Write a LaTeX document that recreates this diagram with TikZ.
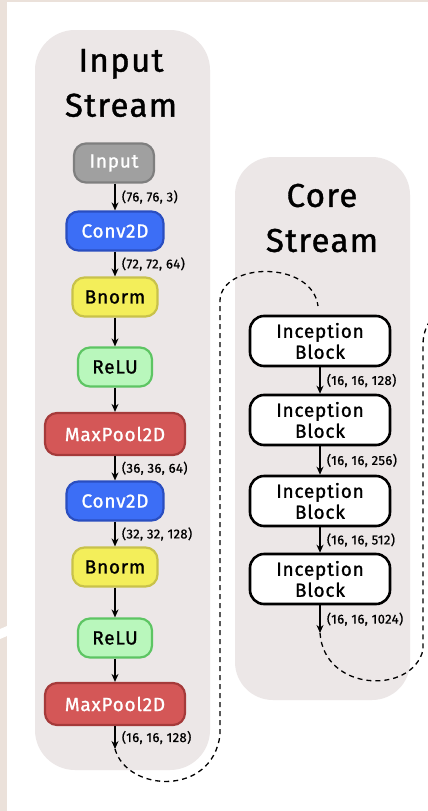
\documentclass[tikz,border=0pt]{standalone}
\usepackage{fontspec}
\setmainfont{Fira Sans}
\newfontfamily\medfont[FakeBold=1.1,LetterSpace=4]{Fira Sans}
\newfontfamily\lblfont[FakeBold=0.8,LetterSpace=3]{Fira Sans}
\usetikzlibrary{arrows.meta}
\definecolor{beige}{HTML}{EBE1DA}
\definecolor{panel}{HTML}{ECE7E7}
\definecolor{grayF}{HTML}{A0A0A0}\definecolor{grayD}{HTML}{7F7F7F}
\definecolor{blueF}{HTML}{3C6EF6}\definecolor{blueD}{HTML}{2A4EC0}
\definecolor{yelF}{HTML}{F3EE5A}\definecolor{yelD}{HTML}{C8C24A}
\definecolor{grnF}{HTML}{B9F7BC}\definecolor{grnD}{HTML}{5DC563}
\definecolor{redF}{HTML}{D45757}\definecolor{redD}{HTML}{A53A3A}
\tikzset{
  layer/.style={rounded corners=12pt, line width=2.2pt, minimum height=39pt, inner sep=0pt,
    font=\medfont\fontsize{19}{22}\selectfont},
  inputbox/.style={layer, fill=grayF, draw=grayD, text=white, minimum width=80pt},
  convbox/.style={layer, fill=blueF, draw=blueD, text=white, minimum width=97pt},
  bnbox/.style={layer, fill=yelF, draw=yelD, text=black, minimum width=85pt},
  relubox/.style={layer, fill=grnF, draw=grnD, text=black, minimum width=74pt},
  poolbox/.style={layer, fill=redF, draw=redD, text=white, minimum width=140pt, minimum height=42pt},
  incbox/.style={rounded corners=14pt, line width=2.6pt, draw=black, fill=white, minimum width=140pt,
    minimum height=50pt, inner sep=0pt, align=center, font=\medfont\fontsize{19}{21}\selectfont},
  flow/.style={line width=1.8pt, -{Stealth[length=8pt,width=7pt]}},
  shape lbl/.style={anchor=west, inner sep=0pt, font=\lblfont\fontsize{13}{15}\selectfont},
  skip/.style={line width=1.3pt, dash pattern=on 5pt off 4pt},
  title/.style={align=center, font=\medfont\fontsize{33}{45}\selectfont},
}
\begin{document}
\begin{tikzpicture}[x=1pt,y=-1pt]
\useasboundingbox (0,0) rectangle (428,811);
\fill[white] (0,0) rectangle (428,811);
% background strips
\fill[beige] (0,0) rectangle (7,811);
\fill[beige] (0,0) rectangle (428,2);
\fill[white] (0,629) -- (7,626) -- (7,636) -- (0,639) -- cycle;
% panels
\fill[panel, rounded corners=40pt] (35,30) rectangle (210,770);
\fill[panel, rounded corners=38pt] (235,157) rectangle (410,700);
% titles
\node[title] (t1) at (121,83) {Input\\Stream};
\node[title] (t2) at (322,218) {Core\\Stream};
% input stream
\node[inputbox] (in) at (114,163) {Input};
\node[convbox] (c1) at (115,231) {Conv2D};
\node[bnbox] (b1) at (115,297) {Bnorm};
\node[relubox] (r1) at (115,367) {ReLU};
\node[poolbox] (p1) at (115,434) {MaxPool2D};
\node[convbox] (c2) at (115,501) {Conv2D};
\node[bnbox] (b2) at (115,567) {Bnorm};
\node[relubox] (r2) at (115,638) {ReLU};
\node[poolbox] (p2) at (115,704) {MaxPool2D};
\coordinate (e1) at (115,749);
\draw[flow] (in.south -| c1.north) -- (c1.north) node[midway, shape lbl, xshift=6pt] (l1) {(76, 76, 3)};
\draw[flow] (c1) -- (b1) node[midway, shape lbl, xshift=6pt] (l2) {(72, 72, 64)};
\draw[flow] (b1) -- (r1);
\draw[flow] (r1) -- (p1);
\draw[flow] (p1) -- (c2) node[midway, shape lbl, xshift=6pt] (l3) {(36, 36, 64)};
\draw[flow] (c2) -- (b2) node[midway, shape lbl, xshift=6pt] (l4) {(32, 32, 128)};
\draw[flow] (b2) -- (r2);
\draw[flow] (r2) -- (p2);
\draw[flow] (p2) -- (e1) node[midway, shape lbl, xshift=6pt] (l5) {(16, 16, 128)};
% core stream
\node[incbox] (i1) at (320,341) {Inception\\Block};
\node[incbox] (i2) at (320,420) {Inception\\Block};
\node[incbox] (i3) at (320,501) {Inception\\Block};
\node[incbox] (i4) at (320,579) {Inception\\Block};
\coordinate (e2) at (320,633);
\draw[flow] (i1) -- (i2) node[midway, shape lbl, xshift=6pt] (l6) {(16, 16, 128)};
\draw[flow] (i2) -- (i3) node[midway, shape lbl, xshift=6pt] (l7) {(16, 16, 256)};
\draw[flow] (i3) -- (i4) node[midway, shape lbl, xshift=6pt] (l8) {(16, 16, 512)};
\draw[flow] (i4) -- (e2) node[midway, shape lbl, xshift=6pt] (l9) {(16, 16, 1024)};
% skip connections
\coordinate (s1) at (318,306);
\draw[skip] (e1) .. controls (127,792) and (212,797) .. (220,735) -- (220,300)
  .. controls (222,262) and (312,260) .. (s1);
\coordinate (s2) at (432,318);
\draw[skip] (e2) .. controls (324,692) and (412,695) .. (423,650) -- (423,345)
  .. controls (423,334) and (426,326) .. (s2);
\end{tikzpicture}
\end{document}
